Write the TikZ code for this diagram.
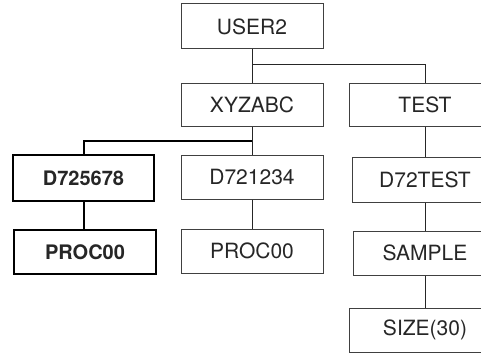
\documentclass[tikz,border=0pt]{standalone}
\usepackage{fontspec}
\setmainfont{TeX Gyre Heros}
\tikzset{
  box/.style={draw=black!75, line width=1pt, rectangle, inner sep=0pt,
    minimum width=142pt, minimum height=44pt, font=\fontsize{21}{24}\selectfont, text=black!85},
  boldbox/.style={box, draw=black, line width=2pt, font=\fontsize{20}{24}\selectfont\bfseries},
  thin/.style={line width=1pt, draw=black!85},
  thick/.style={line width=2pt, draw=black}
}
\begin{document}
\begin{tikzpicture}[x=1pt,y=-1pt]
\useasboundingbox (0,0) rectangle (481,353);
\clip (0,0) rectangle (481,353);
\node[box, minimum height=45pt] (user) at (252,26.5) {USER2};
\node[box, minimum height=43pt] (xyz) at (252,104.5) {XYZABC};
\node[box, minimum width=152pt, minimum height=43pt] (test) at (425,104.5) {TEST};
\node[boldbox, minimum width=141pt, minimum height=46pt] (d725) at (83.5,178) {D725678};
\node[box] (d721) at (252,177) {D721234};
\node[box, minimum width=146pt, minimum height=45pt] (d72t) at (425,179.5) {D72TEST};
\node[boldbox, minimum width=142pt] (procb) at (85,252) {PROC00};
\node[box] (proc) at (252,251) {PROC00};
\node[box, minimum width=144pt] (sample) at (425,253) {SAMPLE};
\node[box, minimum width=152pt] (size) at (425,330) {SIZE(30)};
\coordinate (j1) at (252,64);
\coordinate (j2) at (252,141);
\draw[thin] (user.south) -- (xyz.north);
\draw[thin] (j1) -| (test.north);
\draw[thin] (xyz.south) -- (d721.north);
\draw[thick] (j2) -| (d725.north);
\draw[thick] (d725.south) -- (d725.south |- procb.north);
\draw[thin] (d721.south) -- (proc.north);
\draw[thin] (test.south) -- (d72t.north);
\draw[thin] (d72t.south) -- (sample.north);
\draw[thin] (sample.south) -- (size.north);
\end{tikzpicture}
\end{document}
